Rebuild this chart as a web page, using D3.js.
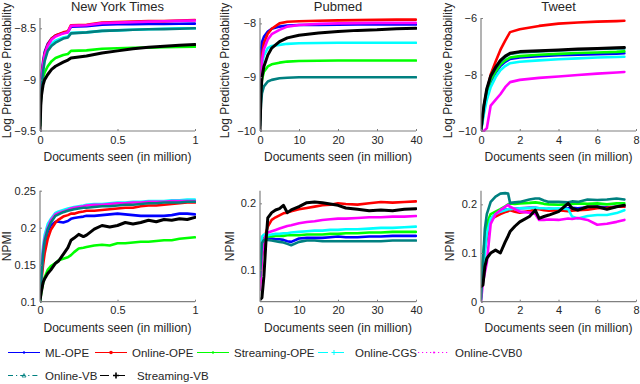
<!DOCTYPE html>
<html><head><meta charset="utf-8">
<script src="https://cdn.jsdelivr.net/npm/d3@7"></script>
<style>
html,body{margin:0;padding:0;background:#fff;}
svg text{font-family:"Liberation Sans",Arial,Helvetica,sans-serif;fill:#262626;font-weight:400;}
</style></head>
<body><svg id="c" width="640" height="384"></svg>
<script>
// ---------- series ----------
const seriesNames = ["ML-OPE","Online-OPE","Streaming-OPE","Online-CGS","Online-CVB0","Online-VB","Streaming-VB"];
const seriesColors = ["#0000ff","#ff0000","#00ff00","#00ffff","#ff00ff","#008080","#000000"];

// ---------- New York Times : log predictive probability ----------
const nytLppX = [0,0.005,0.01,0.02,0.03,0.05,0.075,0.1,0.15,0.18,0.2,0.3,0.4,0.5,0.6,0.7,0.8,0.9,1.0];
const nytLpp = [
  [-9.3,-9.05,-8.95,-8.82,-8.73,-8.65,-8.6,-8.57,-8.545,-8.535,-8.485,-8.48,-8.465,-8.46,-8.46,-8.458,-8.457,-8.456,-8.455],
  [-9.35,-9.1,-9.0,-8.85,-8.75,-8.66,-8.6,-8.57,-8.54,-8.53,-8.47,-8.465,-8.445,-8.44,-8.435,-8.43,-8.43,-8.425,-8.42],
  [-9.45,-9.2,-9.1,-8.98,-8.93,-8.87,-8.82,-8.79,-8.76,-8.75,-8.72,-8.715,-8.7,-8.695,-8.69,-8.688,-8.685,-8.683,-8.68],
  [-9.4,-9.15,-9.05,-8.9,-8.8,-8.7,-8.65,-8.62,-8.59,-8.58,-8.545,-8.54,-8.525,-8.52,-8.515,-8.51,-8.505,-8.5,-8.5],
  [-9.35,-9.1,-9.0,-8.86,-8.76,-8.67,-8.61,-8.58,-8.55,-8.54,-8.475,-8.47,-8.45,-8.445,-8.44,-8.435,-8.432,-8.428,-8.425],
  [-9.45,-9.2,-9.08,-8.92,-8.82,-8.72,-8.67,-8.64,-8.6,-8.59,-8.55,-8.54,-8.525,-8.52,-8.515,-8.51,-8.508,-8.505,-8.5],
  [-9.5,-9.25,-9.15,-9.05,-9.0,-8.95,-8.9,-8.87,-8.83,-8.81,-8.79,-8.77,-8.74,-8.72,-8.7,-8.685,-8.675,-8.665,-8.657]
];

// ---------- Pubmed : log predictive probability ----------
const pubLppX = [0,0.25,0.5,1,2,3,5,7,10,15,20,25,30,35,40];
const pubLpp = [
  [-9.5,-8.5,-8.35,-8.25,-8.15,-8.1,-8.06,-8.04,-8.03,-8.03,-8.025,-8.02,-8.02,-8.02,-8.02],
  [-9.8,-8.9,-8.6,-8.37,-8.19,-8.1,-8.0,-7.97,-7.96,-7.95,-7.945,-7.94,-7.935,-7.93,-7.93],
  [-9.7,-9.2,-9.05,-8.9,-8.8,-8.76,-8.73,-8.71,-8.7,-8.695,-8.69,-8.69,-8.69,-8.69,-8.69],
  [-9.6,-8.9,-8.75,-8.6,-8.46,-8.42,-8.4,-8.38,-8.37,-8.365,-8.36,-8.36,-8.36,-8.36,-8.36],
  [-9.7,-8.95,-8.7,-8.48,-8.3,-8.2,-8.12,-8.06,-8.03,-8.01,-8.0,-7.995,-7.99,-7.99,-7.99],
  [-9.9,-9.5,-9.3,-9.17,-9.08,-9.05,-9.02,-9.01,-9.0,-9.0,-9.0,-9.0,-9.0,-9.0,-9.0],
  [-10,-9.3,-9.0,-8.8,-8.59,-8.46,-8.34,-8.27,-8.22,-8.18,-8.15,-8.13,-8.12,-8.1,-8.09]
];

// ---------- Tweet : log predictive probability ----------
const twLppX = [0,0.15,0.3,0.5,0.75,1.0,1.25,1.5,2,3,4,5,6,7,7.4];
const twLpp = [
  [-10,-9.25,-8.7,-8.25,-7.95,-7.7,-7.55,-7.45,-7.4,-7.35,-7.32,-7.3,-7.28,-7.26,-7.25],
  [-9.95,-9.2,-8.6,-8.0,-7.55,-7.13,-6.8,-6.5,-6.4,-6.28,-6.2,-6.16,-6.13,-6.11,-6.1],
  [-10,-9.2,-8.65,-8.2,-7.9,-7.65,-7.5,-7.4,-7.35,-7.3,-7.27,-7.24,-7.22,-7.2,-7.18],
  [-10,-9.4,-8.9,-8.45,-8.1,-7.85,-7.7,-7.6,-7.55,-7.5,-7.46,-7.43,-7.4,-7.38,-7.37],
  [-10,-10,-9.9,-9.1,-8.9,-8.7,-8.45,-8.27,-8.19,-8.12,-8.07,-8.02,-7.97,-7.93,-7.91],
  [-9.9,-9.1,-8.55,-8.1,-7.8,-7.55,-7.38,-7.27,-7.22,-7.18,-7.15,-7.12,-7.1,-7.08,-7.08],
  [-9.95,-9.1,-8.5,-8.05,-7.75,-7.5,-7.35,-7.25,-7.19,-7.16,-7.13,-7.1,-7.08,-7.05,-7.04]
];

// ---------- New York Times : NPMI ----------
const nytNpmiX = [0,0.01,0.02,0.03,0.05,0.07,0.1,0.12,0.15,0.18,0.2,0.22,0.25,0.28,0.3,0.35,0.4,0.45,0.5,0.55,0.6,0.65,0.7,0.75,0.8,0.85,0.9,0.95,1.0];
const nytNpmi = [
  [0.105,0.14,0.16,0.175,0.195,0.203,0.208,0.208,0.207,0.209,0.212,0.213,0.214,0.215,0.216,0.216,0.217,0.218,0.219,0.218,0.217,0.216,0.216,0.216,0.216,0.217,0.219,0.219,0.218],
  [0.11,0.13,0.15,0.165,0.185,0.197,0.207,0.211,0.215,0.217,0.219,0.219,0.221,0.222,0.223,0.223,0.224,0.225,0.226,0.227,0.227,0.229,0.23,0.23,0.231,0.232,0.233,0.234,0.234],
  [0.1,0.115,0.125,0.133,0.143,0.148,0.152,0.156,0.158,0.16,0.163,0.167,0.172,0.173,0.174,0.176,0.177,0.176,0.179,0.179,0.18,0.181,0.181,0.182,0.183,0.183,0.185,0.186,0.187],
  [0.11,0.15,0.175,0.19,0.205,0.212,0.22,0.222,0.224,0.226,0.227,0.228,0.229,0.23,0.231,0.232,0.232,0.233,0.234,0.234,0.235,0.235,0.236,0.236,0.236,0.237,0.237,0.238,0.238],
  [0.105,0.14,0.17,0.185,0.2,0.21,0.218,0.22,0.222,0.224,0.226,0.227,0.228,0.229,0.23,0.231,0.231,0.232,0.233,0.233,0.234,0.234,0.235,0.235,0.235,0.236,0.236,0.236,0.236],
  [0.1,0.135,0.165,0.182,0.198,0.207,0.216,0.218,0.221,0.223,0.224,0.225,0.226,0.227,0.227,0.228,0.229,0.229,0.23,0.231,0.231,0.232,0.233,0.233,0.234,0.234,0.234,0.235,0.235],
  [0.102,0.115,0.126,0.131,0.138,0.143,0.152,0.155,0.164,0.173,0.183,0.186,0.191,0.188,0.19,0.198,0.203,0.201,0.203,0.207,0.205,0.207,0.21,0.208,0.211,0.21,0.212,0.211,0.214]
];

// ---------- Pubmed : NPMI ----------
const pubNpmiX = [0,0.5,1,1.5,2,3,4,5,6,7,8,10,12,14,16,18,20,22,25,28,31,34,37,40];
const pubNpmi = [
  [0.085,0.135,0.145,0.147,0.147,0.147,0.146,0.146,0.145,0.143,0.142,0.147,0.148,0.148,0.148,0.149,0.15,0.149,0.149,0.15,0.15,0.151,0.151,0.151],
  [0.08,0.12,0.14,0.155,0.165,0.175,0.179,0.182,0.185,0.186,0.188,0.191,0.193,0.195,0.197,0.198,0.2,0.199,0.198,0.2,0.202,0.201,0.202,0.203],
  [0.09,0.14,0.148,0.149,0.15,0.15,0.151,0.151,0.151,0.152,0.152,0.152,0.153,0.153,0.153,0.154,0.154,0.155,0.155,0.156,0.156,0.157,0.157,0.157],
  [0.1,0.15,0.153,0.152,0.152,0.153,0.154,0.154,0.155,0.155,0.156,0.157,0.158,0.159,0.159,0.16,0.16,0.161,0.161,0.162,0.163,0.163,0.164,0.165],
  [0.07,0.12,0.145,0.152,0.156,0.158,0.16,0.162,0.164,0.166,0.167,0.17,0.172,0.173,0.175,0.176,0.177,0.177,0.178,0.179,0.179,0.18,0.18,0.181],
  [0.09,0.14,0.145,0.145,0.145,0.144,0.143,0.142,0.141,0.139,0.137,0.142,0.144,0.144,0.143,0.143,0.143,0.143,0.143,0.143,0.143,0.144,0.144,0.144],
  [0.055,0.058,0.09,0.14,0.178,0.186,0.19,0.192,0.197,0.186,0.19,0.195,0.201,0.202,0.201,0.199,0.197,0.193,0.191,0.189,0.19,0.189,0.191,0.192]
];

// ---------- Tweet : NPMI ----------
const twNpmiX = [0,0.1,0.2,0.3,0.5,0.75,1,1.25,1.4,1.5,1.75,2,2.5,2.8,3,3.25,3.5,4,4.5,4.7,5,5.5,6,6.5,7,7.4];
const twNpmi = [
  [0.01,0.08,0.12,0.15,0.17,0.18,0.185,0.189,0.19,0.191,0.191,0.192,0.193,0.193,0.192,0.19,0.191,0.19,0.192,0.193,0.192,0.194,0.195,0.194,0.195,0.195],
  [0.01,0.07,0.11,0.13,0.168,0.175,0.18,0.184,0.186,0.188,0.185,0.183,0.186,0.19,0.19,0.188,0.187,0.188,0.186,0.187,0.188,0.189,0.192,0.193,0.195,0.195],
  [0.01,0.09,0.13,0.16,0.18,0.185,0.19,0.196,0.2,0.202,0.201,0.202,0.203,0.204,0.203,0.201,0.2,0.199,0.2,0.201,0.202,0.201,0.202,0.2,0.202,0.202],
  [0.005,0.06,0.1,0.14,0.171,0.18,0.185,0.188,0.19,0.19,0.191,0.192,0.192,0.193,0.192,0.192,0.191,0.192,0.19,0.175,0.171,0.176,0.178,0.178,0.182,0.188],
  [0.0,0.04,0.06,0.08,0.16,0.18,0.188,0.195,0.199,0.195,0.19,0.185,0.183,0.18,0.168,0.168,0.169,0.168,0.171,0.17,0.172,0.168,0.158,0.16,0.164,0.168],
  [0.003,0.08,0.15,0.18,0.205,0.216,0.222,0.223,0.222,0.203,0.204,0.205,0.21,0.212,0.212,0.208,0.205,0.205,0.204,0.206,0.205,0.21,0.209,0.21,0.212,0.21],
  [0.031,0.034,0.072,0.089,0.1,0.106,0.1,0.123,0.135,0.144,0.155,0.164,0.175,0.188,0.171,0.175,0.178,0.185,0.202,0.192,0.188,0.195,0.195,0.19,0.195,0.198]
];

// ---------- axes ticks / labels ----------
const panelTitles = ["New York Times","Pubmed","Tweet"];
const xLabelText = "Documents seen (in million)";
const yLabelTop = "Log Predictive Probability";
const yLabelBottom = "NPMI";
const xDomains = [[0,1],[0,40],[0,8]];
const xTicks = [[0,0.5,1],[0,10,20,30,40],[0,2,4,6,8]];
const yDomainsTop = [[-9.5,-8.4],[-10,-7.9],[-10,-6]];
const yTicksTop = [[-9.5,-9,-8.5],[-10,-9,-8],[-10,-8,-6]];
const yDomainsBottom = [[0.1,0.25],[0.052,0.219],[0,0.228]];
const yTicksBottom = [[0.1,0.15,0.2,0.25],[0.1,0.2],[0,0.1,0.2]];

// ---------- layout ----------
const svg = d3.select("#c");
const colX = [[40,195],[260,416],[481,636]];
const rowY = [[131,18],[301.7,190.7]];
const yLabelX = [[7,225,448],[7,230,450]];
const fmt = v => { const s = String(v); return s.replace("-", "\u2212"); };
const FONT = "'Liberation Sans',Arial,Helvetica,sans-serif";

const defs = svg.append("defs");
const panels = [
  {r:0,c:0,xs:nytLppX,ys:nytLpp,yd:yDomainsTop[0],yt:yTicksTop[0]},
  {r:0,c:1,xs:pubLppX,ys:pubLpp,yd:yDomainsTop[1],yt:yTicksTop[1]},
  {r:0,c:2,xs:twLppX,ys:twLpp,yd:yDomainsTop[2],yt:yTicksTop[2]},
  {r:1,c:0,xs:nytNpmiX,ys:nytNpmi,yd:yDomainsBottom[0],yt:yTicksBottom[0]},
  {r:1,c:1,xs:pubNpmiX,ys:pubNpmi,yd:yDomainsBottom[1],yt:yTicksBottom[1]},
  {r:1,c:2,xs:twNpmiX,ys:twNpmi,yd:yDomainsBottom[2],yt:yTicksBottom[2]}
];

panels.forEach((p,i) => {
  const x = d3.scaleLinear().domain(xDomains[p.c]).range(colX[p.c]);
  const y = d3.scaleLinear().domain(p.yd).range(rowY[p.r]);
  const g = svg.append("g");
  const cid = "clip"+i;
  defs.append("clipPath").attr("id",cid).append("rect")
    .attr("x",colX[p.c][0]).attr("y",rowY[p.r][1]-2)
    .attr("width",colX[p.c][1]-colX[p.c][0]+1).attr("height",rowY[p.r][0]-rowY[p.r][1]+3);

  // lines
  const lg = g.append("g").attr("clip-path",`url(#${cid})`);
  const line = d3.line().x(d=>x(d[0])).y(d=>y(d[1]));
  p.ys.forEach((vals,k) => {
    const pts = vals.map((v,j)=>[p.xs[j],v]);
    lg.append("path").attr("d",line(pts)).attr("fill","none")
      .attr("stroke",seriesColors[k]).attr("stroke-width",k===6?3:2.6)
      .attr("stroke-linejoin","round").attr("stroke-linecap","round");
  });

  // axes
  const xa = d3.axisBottom(x).tickValues(xTicks[p.c]).tickSize(-2).tickPadding(5).tickFormat(fmt);
  const ya = d3.axisLeft(y).tickValues(p.yt).tickSize(-2).tickPadding(4).tickFormat(fmt);
  const gx = g.append("g").attr("transform",`translate(0,${rowY[p.r][0]})`).call(xa);
  const gy = g.append("g").attr("transform",`translate(${colX[p.c][0]},0)`).call(ya);
  [gx,gy].forEach(a=>{
    a.attr("font-family",FONT);
    a.select(".domain").attr("stroke","#808080").attr("stroke-width",1.2);
    a.selectAll(".tick line").attr("stroke","#808080");
    a.selectAll(".tick text").attr("font-size",11).attr("fill","#262626");
  });
  gx.select(".domain").attr("d",`M${colX[p.c][0]},0H${colX[p.c][1]}`);
  gy.select(".domain").attr("d",`M0,${rowY[p.r][0]}V${rowY[p.r][1]}`);

  // x label
  svg.append("text").attr("x",(colX[p.c][0]+colX[p.c][1])/2)
    .attr("y",rowY[p.r][0]+30).attr("text-anchor","middle")
    .attr("font-size",12).text(xLabelText);
  // y label
  const yl = p.r===0?yLabelTop:yLabelBottom;
  const cy = (rowY[p.r][0]+rowY[p.r][1])/2 + (p.r===0?-4:0);
  svg.append("text").attr("transform",`translate(${yLabelX[p.r][p.c]},${cy}) rotate(-90)`)
    .attr("text-anchor","middle").attr("dominant-baseline","central")
    .attr("font-size",12).text(yl);
  // title
  if (p.r===0) {
    svg.append("text").attr("x",(colX[p.c][0]+colX[p.c][1])/2).attr("y",11)
      .attr("text-anchor","middle").attr("font-size",13).text(panelTitles[p.c]);
  }
});

// ---------- legend ----------
const legPos = [[8,352.5],[95,352.5],[197,352.5],[318,352.5],[418,352.5],[8,375.5],[100,375.5]];
const legDash = [null,null,null,"10,6","1.2,2.8","5,3,1.2,3","9,7"];
const lgd = svg.append("g");
seriesNames.forEach((n,k)=>{
  const [lx,ly] = legPos[k];
  const L = 32, cx = lx+L/2;
  lgd.append("line").attr("x1",lx).attr("x2",lx+L).attr("y1",ly).attr("y2",ly)
    .attr("stroke",seriesColors[k]).attr("stroke-width",1)
    .attr("stroke-dasharray",legDash[k]);
  if (k===0||k===2) lgd.append("circle").attr("cx",cx).attr("cy",ly).attr("r",1.2).attr("fill",seriesColors[k]);
  if (k===1) lgd.append("circle").attr("cx",cx).attr("cy",ly).attr("r",1.8).attr("fill",seriesColors[k]);
  if (k===4) lgd.append("circle").attr("cx",cx).attr("cy",ly).attr("r",1).attr("fill",seriesColors[k]);
  if (k===3||k===6) {
    const s = k===6?3:2.5;
    lgd.append("path").attr("d",`M${cx-s},${ly}H${cx+s}M${cx},${ly-s}V${ly+s}`)
      .attr("stroke",seriesColors[k]).attr("stroke-width",k===6?1.6:1);
  }
  if (k===5) lgd.append("path").attr("d",`M${cx},${ly-2}L${cx+2},${ly+1.5}L${cx-2},${ly+1.5}Z`)
      .attr("fill","none").attr("stroke",seriesColors[k]).attr("stroke-width",0.8);
  lgd.append("text").attr("x",lx+L+5).attr("y",ly+4).attr("font-size",11.5).text(n);
});
</script></body></html>
